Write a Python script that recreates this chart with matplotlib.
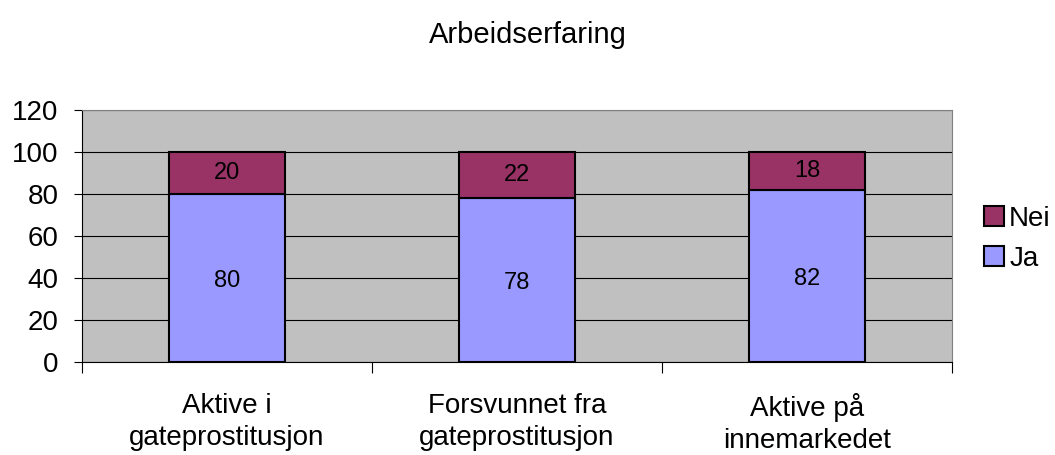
import matplotlib
matplotlib.use("Agg")
import matplotlib.pyplot as plt
import numpy as np

plt.rcParams["font.family"] = ["Liberation Sans", "DejaVu Sans"]

categories = ["Aktive i\ngateprostitusjon", "Forsvunnet fra\ngateprostitusjon", "Aktive på\ninnemarkedet"]
ja = [80, 78, 82]
nei = [20, 22, 18]

fig = plt.figure(figsize=(10.55, 4.55), dpi=100)
ax = fig.add_axes([0.0777, 0.2044, 0.8247, 0.5536])
ax.set_facecolor("#C0C0C0")

x = np.arange(len(categories))
b1 = ax.bar(x, ja, width=0.4, color="#9999FF", edgecolor="black", linewidth=1.5, label="Ja", zorder=3)
b2 = ax.bar(x, nei, width=0.4, bottom=ja, color="#993366", edgecolor="black", linewidth=1.5, label="Nei", zorder=3)

for i in range(len(x)):
    ax.text(x[i], ja[i] / 2 - 1.5, str(ja[i]), ha="center", va="center", fontsize=17, zorder=4)
    ax.text(x[i], ja[i] + nei[i] / 2, str(nei[i]), ha="center", va="center", fontsize=17, zorder=4)

ax.set_xlim(-0.5, 2.5)
ax.set_ylim(0, 120)
ax.set_yticks(range(0, 121, 20))
ax.yaxis.grid(True, color="black", linewidth=0.8, zorder=0)
ax.set_axisbelow(True)

ax.set_xticks([-0.5, 0.5, 1.5, 2.5])
ax.set_xticklabels([])
ax.set_xticks(x, minor=True)
ax.set_xticklabels(categories, minor=True, fontsize=20, linespacing=1.3)
ax.tick_params(axis="x", which="minor", length=0, pad=22)
ax.tick_params(axis="x", which="major", length=8, color="black")
ax.tick_params(axis="y", labelsize=20, length=6, pad=11, color="black")

for s in ["top", "right"]:
    ax.spines[s].set_color("#808080")
for s in ["left", "bottom"]:
    ax.spines[s].set_color("black")

fig.text(0.5, 0.922, "Arbeidserfaring", ha="center", va="center", fontsize=21)

ax.legend(handles=[b2, b1], loc="center left", bbox_to_anchor=(1.037, 0.49), frameon=False,
          borderpad=0, borderaxespad=0, fontsize=20, handlelength=0.7, handleheight=0.7,
          handletextpad=0.2, labelspacing=0.5)

fig.savefig("out.png", dpi=100)
